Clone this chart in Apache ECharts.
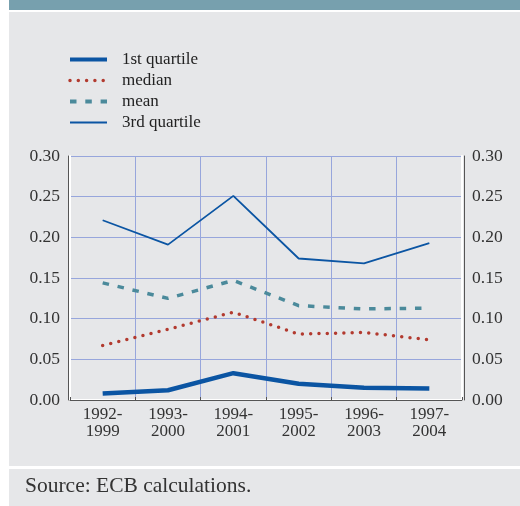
<!DOCTYPE html>
<html>
<head>
<meta charset="utf-8">
<script src="https://cdn.jsdelivr.net/npm/echarts@6/dist/echarts.min.js"></script>
<style>
  html, body { margin: 0; padding: 0; background: #fff; }
  #main { width: 520px; height: 506px; }
</style>
</head>
<body>
<div id="main"></div>
<script>
// categories (rolling windows)
var periods = ["1992-\n1999", "1993-\n2000", "1994-\n2001", "1995-\n2002", "1996-\n2003", "1997-\n2004"];
// series values
var firstQuartile = [0.008, 0.012, 0.033, 0.020, 0.015, 0.014];
var median = [0.067, 0.087, 0.108, 0.081, 0.083, 0.074];
var mean = [0.144, 0.125, 0.147, 0.116, 0.112, 0.113];
var thirdQuartile = [0.221, 0.191, 0.251, 0.174, 0.168, 0.193];
var yTicks = [0, 0.30, 0.05]; // min, max, step

var blue = "#0b55a3";
var red = "#b23a2f";
var teal = "#4b8a9b";
var gridBlue = "#97a6dc";
var serif = "'Liberation Serif', 'DejaVu Serif', serif";

var myChart = echarts.init(document.getElementById("main"));

var yLabel = function (v) { return v.toFixed(2); };

var option = {
    animation: false,
    backgroundColor: "#ffffff",
    graphic: [
        { type: "rect", shape: { x: 9, y: 0, width: 511, height: 10 }, style: { fill: "#77a0ae" } },
        { type: "rect", shape: { x: 9, y: 12, width: 511, height: 454 }, style: { fill: "#e6e7e9" } },
        { type: "rect", shape: { x: 9, y: 469, width: 511, height: 37 }, style: { fill: "#e6e7e9" } },
        {
            type: "text", left: 25, top: 475,
            style: { text: "Source: ECB calculations.", font: "21.5px " + serif, fill: "#333" }
        }
    ],
    legend: {
        orient: "vertical",
        left: 68,
        top: 51,
        padding: 0,
        itemWidth: 37,
        itemHeight: 14,
        itemGap: 4,
        // hide the marker on the legend line, keep the dashes
        itemStyle: { opacity: 0 },
        textStyle: { fontFamily: serif, fontSize: 17, lineHeight: 17, color: "#222", padding: [0, 0, 0, 10] },
        data: [
            { name: "1st quartile", lineStyle: { width: 4 } },
            { name: "median", lineStyle: { width: 3.5 } },
            { name: "mean", lineStyle: { width: 4 } },
            { name: "3rd quartile", lineStyle: { width: 2 } }
        ]
    },
    grid: { left: 70, right: 58, top: 156, bottom: 106 },
    xAxis: [
        {
            type: "category",
            data: periods,
            boundaryGap: true,
            axisLine: { lineStyle: { color: "#ffffff", width: 2 } },
            axisTick: { show: false },
            splitLine: { show: true, interval: 0, lineStyle: { color: gridBlue, width: 1 } },
            axisLabel: {
                interval: 0, margin: 6,
                fontFamily: serif, fontSize: 17, color: "#333", lineHeight: 17
            }
        },
        {
            type: "category",
            data: periods,
            position: "bottom",
            offset: 2,
            axisLine: { lineStyle: { color: "#555", width: 1 } },
            axisTick: { show: true, inside: true, length: 3, lineStyle: { color: "#555" } },
            axisLabel: { show: false },
            splitLine: { show: false }
        }
    ],
    yAxis: [
        {
            type: "value", min: yTicks[0], max: yTicks[1], interval: yTicks[2],
            position: "left",
            axisLine: { show: true, lineStyle: { color: "#ffffff", width: 2 } },
            axisTick: { show: false },
            splitLine: { lineStyle: { color: gridBlue, width: 1 } },
            axisLabel: { formatter: yLabel, margin: 10, fontFamily: serif, fontSize: 17.5, color: "#333" }
        },
        {
            type: "value", min: yTicks[0], max: yTicks[1], interval: yTicks[2],
            position: "right",
            axisLine: { show: true, lineStyle: { color: "#ffffff", width: 2 } },
            axisTick: { show: false },
            splitLine: { show: false },
            axisLabel: { formatter: yLabel, margin: 10, fontFamily: serif, fontSize: 17.5, color: "#333" }
        },
        {
            type: "value", min: yTicks[0], max: yTicks[1], interval: yTicks[2],
            position: "left", offset: 2,
            axisLine: { show: true, lineStyle: { color: "#555", width: 1 } },
            axisTick: { show: false }, axisLabel: { show: false }, splitLine: { show: false }
        },
        {
            type: "value", min: yTicks[0], max: yTicks[1], interval: yTicks[2],
            position: "right", offset: 2,
            axisLine: { show: true, lineStyle: { color: "#555", width: 1 } },
            axisTick: { show: false }, axisLabel: { show: false }, splitLine: { show: false }
        }
    ],
    series: [
        {
            name: "1st quartile", type: "line", data: firstQuartile,
            symbol: "none", color: blue,
            lineStyle: { color: blue, width: 4.5 }
        },
        {
            name: "median", type: "line", data: median,
            symbol: "none", color: red,
            lineStyle: { color: red, width: 3.5, type: [0, 8.3], cap: "round" }
        },
        {
            name: "mean", type: "line", data: mean,
            symbol: "none", color: teal,
            lineStyle: { color: teal, width: 3.5, type: [6.5, 8.8] }
        },
        {
            name: "3rd quartile", type: "line", data: thirdQuartile,
            symbol: "none", color: blue,
            lineStyle: { color: blue, width: 1.8 }
        }
    ]
};

myChart.setOption(option);
window.addEventListener("resize", function () {
    myChart.resize();
});
</script>
</body>
</html>
